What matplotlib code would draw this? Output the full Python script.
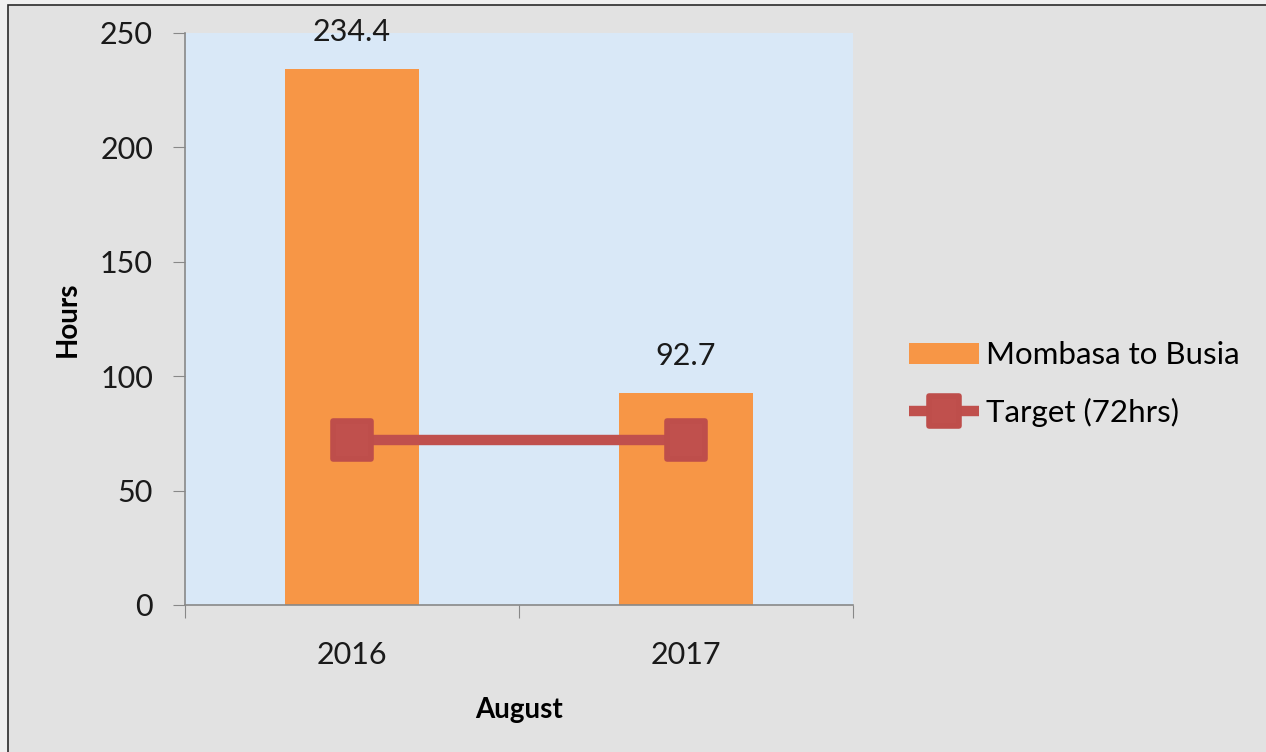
import matplotlib.pyplot as plt
import matplotlib
from matplotlib.patches import Rectangle
from matplotlib.markers import MarkerStyle
import numpy as np

matplotlib.rcParams['font.family'] = ['Lato', 'DejaVu Sans']

years = ['2016', '2017']
hours = [234.4, 92.7]
target = [72, 72]

bar_color = '#F79646'
line_color = '#C0504D'

fig = plt.figure(figsize=(12.66, 7.52), dpi=100)
fig.patch.set_facecolor('#f0f0f0')

# chart area with thin dark frame on left/top
fig.patches.append(Rectangle((8/1266, -0.1), 1.2, 1 - 5/752 + 0.1, transform=fig.transFigure,
                             facecolor='#e2e2e2', edgecolor='#2b2b2b', linewidth=1.2, zorder=-10))

ax = fig.add_axes([185/1266, 1 - 605/752, 668/1266, 572/752])
ax.set_facecolor('#d9e8f7')

x = np.arange(len(years))
bars = ax.bar(x, hours, width=0.4, color=bar_color, label='Mombasa to Busia', zorder=2)
# square marker with rounded corners
sq = MarkerStyle('s', joinstyle='round')
line, = ax.plot(x, target, color=line_color, linewidth=7.5, marker=sq, markersize=27,
                markerfacecolor=line_color, markeredgecolor='#be4e4b', markeredgewidth=4,
                solid_capstyle='butt', label='Target (72hrs)', zorder=3)

for xi, v in zip(x, hours):
    ax.text(xi, v + 10, '{:.1f}'.format(v), ha='center', va='bottom', fontsize=22, color='#1a1a1a')

ax.set_xlim(-0.5, 1.5)
ax.set_ylim(0, 250)
ax.set_yticks([0, 50, 100, 150, 200, 250])
ax.set_xticks([-0.5, 0.5, 1.5])
ax.set_xticklabels([])
ax.set_xticks(x, minor=True)
ax.set_xticklabels(years, minor=True)
ax.tick_params(axis='x', which='minor', length=0, pad=26, labelsize=22, labelcolor='#1a1a1a')
ax.tick_params(axis='x', which='major', length=9, color='#888888', direction='out')
ax.tick_params(axis='y', length=9, color='#888888', labelsize=22, pad=14, labelcolor='#1a1a1a')

for s in ['top', 'right']:
    ax.spines[s].set_visible(False)
for s in ['left', 'bottom']:
    ax.spines[s].set_color('#888888')
    ax.spines[s].set_linewidth(1.2)

ax.set_ylabel('Hours', fontsize=20, fontweight='bold', labelpad=14)
ax.set_xlabel('August', fontsize=20, fontweight='bold', labelpad=20)

leg = fig.legend(handles=[bars, line], loc='center left', bbox_to_anchor=(909/1266, 1 - 384/752),
                 frameon=False, fontsize=22.5, borderpad=0, borderaxespad=0,
                 handlelength=2.25, handleheight=0.7, handletextpad=0.2, labelspacing=0.9,
                 markerscale=0.8)

fig.savefig('out.png', dpi=100, facecolor=fig.get_facecolor())
